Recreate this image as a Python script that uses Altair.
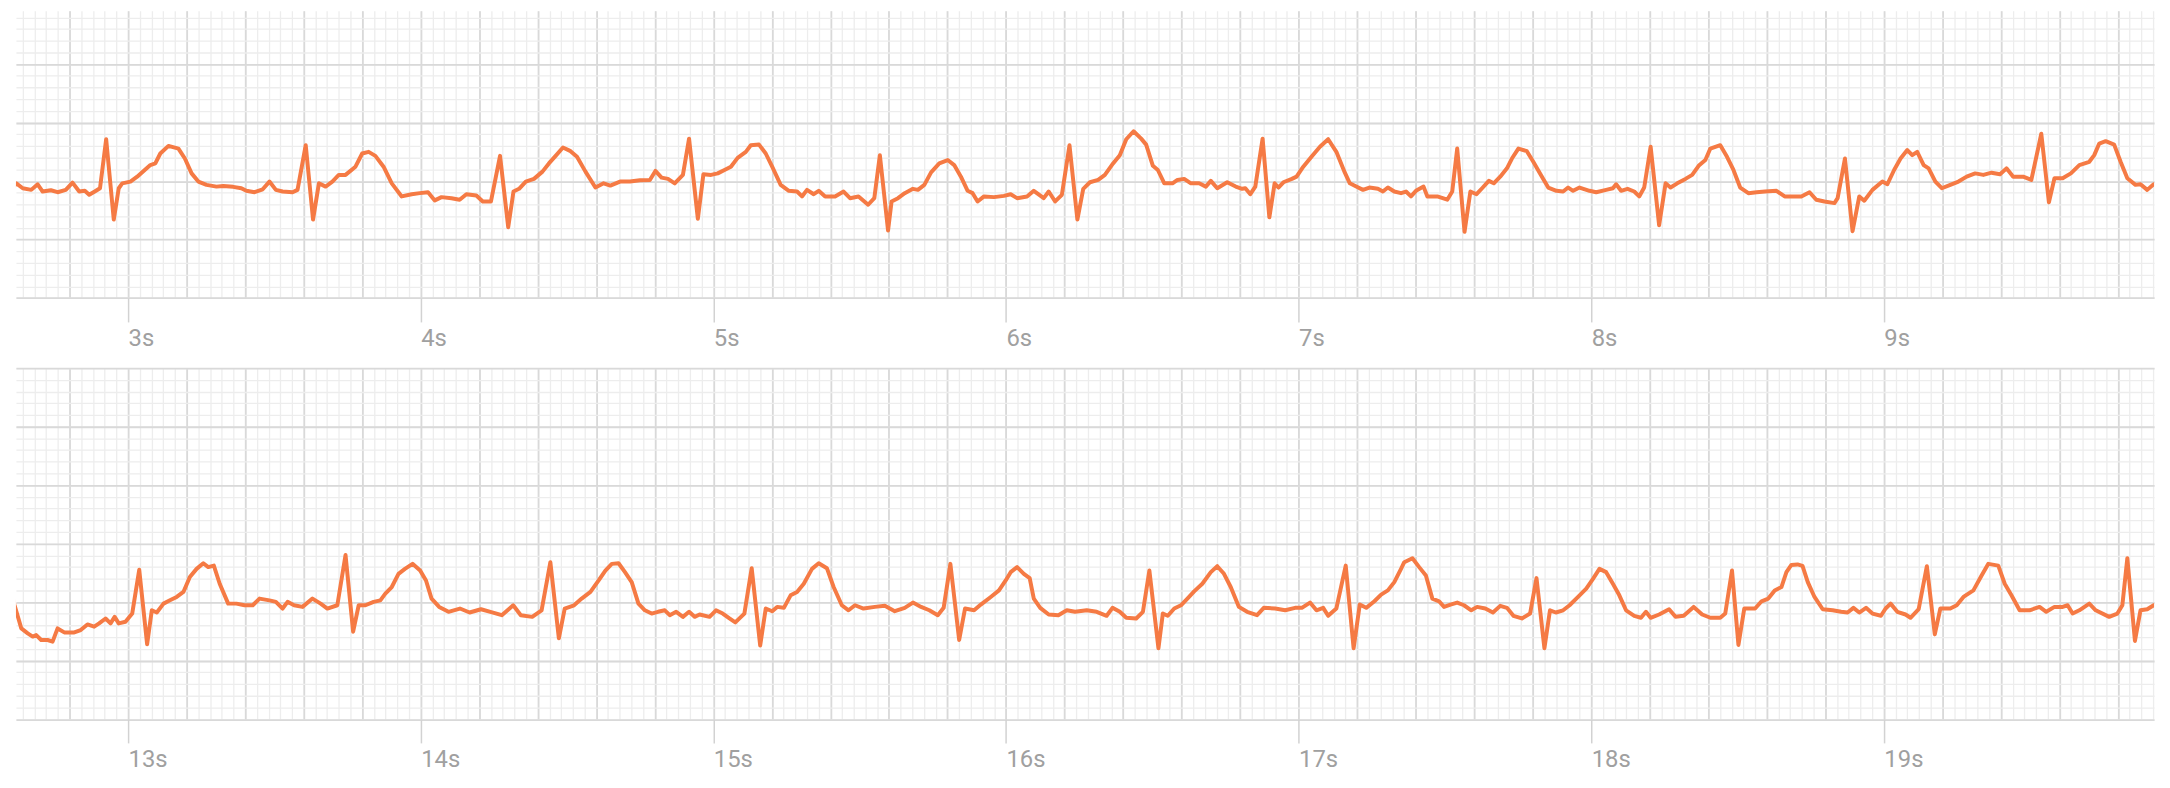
import altair as alt
import numpy as np
import pandas as pd

# ---------------- data (seconds, mV) ----------------
top_t = [
    2.590, 2.618, 2.640, 2.669, 2.691, 2.708, 2.736, 2.759, 2.787, 2.810,
    2.833, 2.852, 2.867, 2.886, 2.904, 2.925, 2.951, 2.968, 2.980, 3.008,
    3.031, 3.053, 3.076, 3.093, 3.110, 3.138, 3.172, 3.194, 3.217, 3.240,
    3.268, 3.302, 3.325, 3.359, 3.387, 3.404, 3.432, 3.460, 3.483, 3.505,
    3.528, 3.562, 3.579, 3.607, 3.632, 3.652, 3.675, 3.698, 3.720, 3.743,
    3.777, 3.800, 3.822, 3.845, 3.873, 3.901, 3.935, 3.969, 3.997, 4.025,
    4.048, 4.071, 4.105, 4.133, 4.156, 4.190, 4.212, 4.240, 4.271, 4.299,
    4.317, 4.336, 4.359, 4.387, 4.416, 4.438, 4.461, 4.486, 4.512, 4.534,
    4.563, 4.597, 4.625, 4.648, 4.681, 4.715, 4.749, 4.783, 4.802, 4.823,
    4.845, 4.868, 4.896, 4.917, 4.947, 4.966, 4.992, 5.015, 5.038, 5.060,
    5.083, 5.111, 5.128, 5.156, 5.179, 5.201, 5.230, 5.258, 5.286, 5.303,
    5.320, 5.343, 5.360, 5.382, 5.416, 5.445, 5.467, 5.496, 5.529, 5.550,
    5.569, 5.597, 5.609, 5.631, 5.654, 5.682, 5.699, 5.721, 5.744, 5.772,
    5.801, 5.823, 5.846, 5.869, 5.886, 5.903, 5.925, 5.959, 5.993, 6.016,
    6.038, 6.072, 6.095, 6.129, 6.146, 6.168, 6.191, 6.217, 6.244, 6.264,
    6.287, 6.315, 6.338, 6.366, 6.389, 6.411, 6.436, 6.462, 6.479, 6.502,
    6.519, 6.541, 6.569, 6.586, 6.609, 6.632, 6.660, 6.683, 6.700, 6.722,
    6.756, 6.785, 6.807, 6.818, 6.835, 6.852, 6.877, 6.900, 6.918, 6.931,
    6.948, 6.977, 6.993, 7.016, 7.044, 7.073, 7.101, 7.129, 7.158, 7.175,
    7.197, 7.220, 7.242, 7.271, 7.288, 7.305, 7.327, 7.350, 7.367, 7.384,
    7.401, 7.427, 7.440, 7.474, 7.508, 7.525, 7.542, 7.567, 7.587, 7.608,
    7.627, 7.650, 7.667, 7.689, 7.712, 7.729, 7.751, 7.780, 7.802, 7.825,
    7.853, 7.881, 7.904, 7.921, 7.938, 7.960, 7.994, 8.017, 8.051, 8.074,
    8.085, 8.102, 8.124, 8.147, 8.164, 8.181, 8.203, 8.232, 8.254, 8.271,
    8.294, 8.322, 8.345, 8.367, 8.390, 8.407, 8.441, 8.464, 8.486, 8.509,
    8.537, 8.565, 8.594, 8.633, 8.661, 8.695, 8.718, 8.746, 8.769, 8.797,
    8.831, 8.842, 8.867, 8.893, 8.916, 8.933, 8.961, 8.995, 9.012, 9.035,
    9.057, 9.080, 9.097, 9.114, 9.136, 9.153, 9.176, 9.198, 9.227, 9.255,
    9.283, 9.312, 9.340, 9.368, 9.397, 9.419, 9.442, 9.476, 9.504, 9.538,
    9.564, 9.583, 9.611, 9.639, 9.668, 9.702, 9.719, 9.736, 9.758, 9.787,
    9.809, 9.832, 9.860, 9.877, 9.900, 9.922, 9.950,
]
top_mv = [
    -0.103, -0.019, -0.061, -0.075, -0.027, -0.089, -0.078, -0.095, -0.075, -0.013,
    -0.089, -0.083, -0.117, -0.089, -0.061, 0.358, -0.329, -0.061, -0.019, -0.004,
    0.038, 0.087, 0.137, 0.151, 0.236, 0.301, 0.278, 0.193, 0.066, -0.004,
    -0.032, -0.047, -0.041, -0.049, -0.061, -0.083, -0.095, -0.070, -0.004, -0.075,
    -0.089, -0.095, -0.075, 0.307, -0.329, -0.019, -0.047, -0.004, 0.053, 0.053,
    0.123, 0.236, 0.250, 0.216, 0.123, -0.019, -0.131, -0.112, -0.103, -0.095,
    -0.165, -0.137, -0.146, -0.159, -0.112, -0.123, -0.174, -0.174, 0.216, -0.394,
    -0.089, -0.066, -0.004, 0.019, 0.081, 0.151, 0.216, 0.287, 0.256, 0.208,
    0.081, -0.055, -0.019, -0.038, -0.004, -0.004, 0.007, 0.010, 0.087, 0.030,
    0.019, -0.019, 0.053, 0.363, -0.321, 0.058, 0.053, 0.066, 0.095, 0.123,
    0.199, 0.250, 0.307, 0.312, 0.236, 0.123, -0.032, -0.083, -0.089, -0.131,
    -0.075, -0.112, -0.083, -0.131, -0.131, -0.089, -0.146, -0.131, -0.202, -0.146,
    0.222, -0.422, -0.174, -0.146, -0.103, -0.066, -0.075, -0.032, 0.075, 0.151,
    0.180, 0.137, 0.038, -0.083, -0.103, -0.174, -0.131, -0.137, -0.126, -0.112,
    -0.146, -0.131, -0.083, -0.146, -0.089, -0.174, -0.117, 0.307, -0.329, -0.066,
    -0.010, 0.010, 0.053, 0.151, 0.222, 0.358, 0.426, 0.363, 0.312, 0.131,
    0.095, -0.019, -0.019, 0.010, 0.019, -0.019, -0.019, -0.047, 0.002, -0.061,
    -0.010, -0.047, -0.066, -0.061, -0.112, -0.047, 0.363, -0.310, -0.019, -0.055,
    -0.010, 0.019, 0.038, 0.123, 0.208, 0.293, 0.358, 0.250, 0.072, -0.019,
    -0.047, -0.075, -0.055, -0.066, -0.089, -0.055, -0.089, -0.103, -0.089, -0.131,
    -0.083, -0.047, -0.131, -0.131, -0.159, -0.089, 0.278, -0.434, -0.089, -0.112,
    -0.061, 0.002, -0.019, 0.038, 0.109, 0.193, 0.278, 0.256, 0.165, 0.066,
    -0.055, -0.083, -0.089, -0.055, -0.083, -0.055, -0.083, -0.095, -0.075, -0.061,
    -0.027, -0.083, -0.066, -0.089, -0.131, -0.055, 0.293, -0.377, -0.019, -0.055,
    -0.019, 0.019, 0.053, 0.131, 0.180, 0.278, 0.307, 0.208, 0.095, -0.055,
    -0.103, -0.095, -0.089, -0.083, -0.131, -0.131, -0.131, -0.095, -0.159, -0.174,
    -0.188, -0.146, 0.193, -0.428, -0.131, -0.168, -0.075, -0.004, -0.027, 0.095,
    0.193, 0.265, 0.222, 0.250, 0.137, 0.109, -0.004, -0.061, -0.032, -0.004,
    0.038, 0.066, 0.053, 0.072, 0.058, 0.109, 0.038, 0.038, 0.010, 0.405,
    -0.182, 0.024, 0.024, 0.066, 0.137, 0.165, 0.222, 0.321, 0.341, 0.312,
    0.165, 0.024, -0.032, -0.027, -0.075, -0.027, -0.004,
]

bottom_t = [
    12.595, 12.612, 12.635, 12.657, 12.674, 12.686, 12.703, 12.725, 12.742, 12.759,
    12.782, 12.816, 12.838, 12.861, 12.884, 12.901, 12.923, 12.940, 12.954, 12.968,
    12.991, 13.014, 13.038, 13.065, 13.081, 13.098, 13.121, 13.143, 13.166, 13.189,
    13.211, 13.234, 13.257, 13.274, 13.293, 13.313, 13.342, 13.370, 13.398, 13.426,
    13.449, 13.483, 13.505, 13.528, 13.545, 13.567, 13.596, 13.630, 13.658, 13.681,
    13.715, 13.743, 13.769, 13.788, 13.811, 13.839, 13.862, 13.879, 13.901, 13.924,
    13.946, 13.972, 13.998, 14.018, 14.037, 14.063, 14.095, 14.134, 14.167, 14.206,
    14.238, 14.277, 14.316, 14.342, 14.381, 14.413, 14.443, 14.472, 14.492, 14.524,
    14.550, 14.580, 14.608, 14.631, 14.653, 14.676, 14.698, 14.721, 14.744, 14.766,
    14.789, 14.811, 14.834, 14.851, 14.873, 14.896, 14.917, 14.936, 14.953, 14.987,
    15.009, 15.032, 15.055, 15.075, 15.106, 15.131, 15.160, 15.179, 15.201, 15.218,
    15.241, 15.264, 15.286, 15.309, 15.337, 15.360, 15.388, 15.411, 15.439, 15.462,
    15.484, 15.513, 15.552, 15.586, 15.620, 15.654, 15.682, 15.710, 15.738, 15.767,
    15.787, 15.810, 15.840, 15.860, 15.891, 15.914, 15.948, 15.976, 15.999, 16.016,
    16.038, 16.061, 16.081, 16.095, 16.117, 16.146, 16.179, 16.208, 16.236, 16.276,
    16.310, 16.344, 16.364, 16.389, 16.411, 16.445, 16.468, 16.490, 16.521, 16.536,
    16.553, 16.575, 16.598, 16.620, 16.643, 16.671, 16.700, 16.722, 16.745, 16.768,
    16.796, 16.824, 16.858, 16.881, 16.920, 16.954, 16.988, 17.011, 17.039, 17.061,
    17.084, 17.101, 17.129, 17.161, 17.188, 17.209, 17.231, 17.259, 17.282, 17.305,
    17.327, 17.350, 17.361, 17.389, 17.412, 17.435, 17.457, 17.480, 17.497, 17.519,
    17.542, 17.565, 17.590, 17.610, 17.638, 17.664, 17.689, 17.712, 17.734, 17.763,
    17.791, 17.813, 17.840, 17.859, 17.879, 17.904, 17.926, 17.955, 17.983, 18.006,
    18.028, 18.051, 18.074, 18.096, 18.119, 18.147, 18.170, 18.187, 18.203, 18.232,
    18.266, 18.288, 18.316, 18.350, 18.379, 18.407, 18.441, 18.458, 18.481, 18.503,
    18.523, 18.560, 18.582, 18.605, 18.627, 18.650, 18.667, 18.684, 18.705, 18.722,
    18.740, 18.763, 18.791, 18.825, 18.854, 18.876, 18.896, 18.916, 18.939, 18.961,
    18.990, 19.006, 19.023, 19.046, 19.074, 19.091, 19.119, 19.147, 19.174, 19.193,
    19.227, 19.249, 19.272, 19.306, 19.334, 19.357, 19.391, 19.413, 19.436, 19.464,
    19.498, 19.532, 19.555, 19.583, 19.611, 19.628, 19.645, 19.668, 19.702, 19.724,
    19.770, 19.798, 19.815, 19.832, 19.858, 19.877, 19.900, 19.922, 19.950,
]
bottom_mv = [
    0.142, -0.027, -0.225, -0.267, -0.295, -0.282, -0.324, -0.324, -0.338, -0.225,
    -0.259, -0.259, -0.239, -0.191, -0.210, -0.182, -0.140, -0.182, -0.126, -0.182,
    -0.168, -0.098, 0.276, -0.360, -0.070, -0.089, -0.013, 0.015, 0.044, 0.087,
    0.214, 0.284, 0.332, 0.299, 0.312, 0.157, -0.013, -0.013, -0.027, -0.027,
    0.030, 0.015, 0.002, -0.055, 0.002, -0.027, -0.041, 0.030, -0.013, -0.055,
    -0.027, 0.403, -0.253, -0.027, -0.027, 0.002, 0.015, 0.072, 0.129, 0.242,
    0.284, 0.327, 0.270, 0.185, 0.030, -0.041, -0.083, -0.055, -0.089, -0.061,
    -0.083, -0.112, -0.027, -0.112, -0.126, -0.070, 0.341, -0.310, -0.055, -0.027,
    0.030, 0.087, 0.185, 0.270, 0.327, 0.332, 0.256, 0.171, -0.013, -0.070,
    -0.098, -0.083, -0.070, -0.112, -0.083, -0.126, -0.083, -0.126, -0.106, -0.126,
    -0.070, -0.098, -0.140, -0.174, -0.098, 0.290, -0.371, -0.055, -0.078, -0.041,
    -0.049, 0.058, 0.087, 0.157, 0.284, 0.332, 0.290, 0.129, -0.027, -0.070,
    -0.027, -0.055, -0.041, -0.032, -0.078, -0.049, -0.004, -0.041, -0.070, -0.112,
    -0.049, 0.327, -0.324, -0.055, -0.070, -0.021, 0.044, 0.100, 0.185, 0.256,
    0.299, 0.242, 0.205, 0.030, -0.049, -0.106, -0.112, -0.070, -0.083, -0.070,
    -0.083, -0.117, -0.049, -0.083, -0.134, -0.140, -0.083, 0.270, -0.394, -0.098,
    -0.117, -0.055, -0.027, 0.030, 0.092, 0.157, 0.256, 0.307, 0.242, 0.129,
    -0.041, -0.083, -0.112, -0.049, -0.055, -0.070, -0.049, -0.049, -0.004, -0.070,
    -0.049, -0.117, -0.055, 0.312, -0.394, -0.021, -0.049, 0.007, 0.064, 0.100,
    0.171, 0.284, 0.341, 0.375, 0.299, 0.227, 0.030, 0.007, -0.041, -0.021,
    -0.004, -0.027, -0.070, -0.041, -0.055, -0.089, -0.032, -0.049, -0.117, -0.140,
    -0.098, 0.205, -0.394, -0.070, -0.089, -0.070, -0.027, 0.044, 0.115, 0.199,
    0.284, 0.256, 0.157, 0.058, -0.070, -0.117, -0.134, -0.083, -0.134, -0.106,
    -0.061, -0.126, -0.117, -0.041, -0.106, -0.134, -0.134, -0.098, 0.270, -0.366,
    -0.055, -0.055, 0.007, 0.030, 0.100, 0.129, 0.256, 0.318, 0.322, 0.310,
    0.171, 0.044, -0.061, -0.070, -0.083, -0.089, -0.049, -0.089, -0.049, -0.098,
    -0.117, -0.055, -0.013, -0.083, -0.106, -0.134, -0.061, 0.307, -0.276, -0.055,
    -0.055, -0.027, 0.044, 0.100, 0.227, 0.327, 0.312, 0.157, 0.058, -0.070,
    -0.070, -0.041, -0.083, -0.041, -0.041, -0.027, -0.098, -0.070, -0.013, -0.070,
    -0.126, -0.098, -0.027, 0.375, -0.332, -0.070, -0.061, -0.027, 0.002,
]

top_start = 2.6167      # left edge of the visible strip (s)
bottom_start = 12.6167
top_range = [-1.0, 1.4555]   # mV, top strip is cut off at the top
bottom_range = [-1.0, 2.0]

# ---------------- styling ----------------
LINE_COLOR = "#f57a44"
MAJOR_COLOR = "#d9d9d9"
MINOR_COLOR = "#ededed"
LABEL_COLOR = "#a0a0a0"
TICK_COLOR = "#d2d2d2"
PANEL_W = 2154
PX_PER_S = 294.8
PX_PER_MV = 117.85


def steps(lo, hi, step):
    k0 = int(np.ceil(lo / step - 1e-9))
    k1 = int(np.floor(hi / step + 1e-9))
    return [round(k * step, 3) for k in range(k0, k1 + 1)]


def strip(ts, vs, t0, vrange):
    t1 = t0 + PANEL_W / PX_PER_S
    h = round((vrange[1] - vrange[0]) * PX_PER_MV, 1)
    df = pd.DataFrame({"t": ts, "mv": vs})
    xs = alt.Scale(domain=[t0, t1], nice=False, zero=False)
    ys = alt.Scale(domain=vrange, nice=False, zero=False)

    def grid_axis(values, color, width, orient):
        return alt.Axis(values=values, grid=True, gridColor=color, gridWidth=width,
                        ticks=False, labels=False, domain=False, title=None,
                        orient=orient)

    base = alt.Chart(df)
    minor = base.mark_line(opacity=0).encode(
        x=alt.X("t:Q", scale=xs, axis=grid_axis(steps(t0, t1, 0.04), MINOR_COLOR, 1.3, "top")),
        y=alt.Y("mv:Q", scale=ys, axis=grid_axis(steps(vrange[0], vrange[1], 0.1), MINOR_COLOR, 1.3, "left")),
    )
    major = base.mark_line(opacity=0).encode(
        x=alt.X("t:Q", scale=xs, axis=grid_axis(steps(t0, t1, 0.2), MAJOR_COLOR, 1.8, "top")),
        y=alt.Y("mv:Q", scale=ys, axis=grid_axis(steps(vrange[0], vrange[1], 0.5), MAJOR_COLOR, 1.8, "right")),
    )
    trace = base.mark_line(color=LINE_COLOR, strokeWidth=4, strokeJoin="round",
                           strokeCap="round", clip=True).encode(
        x=alt.X("t:Q", scale=xs, axis=alt.Axis(
            values=steps(t0, t1, 1.0), grid=False, domain=False, title=None,
            ticks=True, tickSize=24, tickColor=TICK_COLOR, tickWidth=1.5,
            labels=True, labelExpr="round(datum.value) + 's'", labelAlign="left",
            labelFont="Roboto", labelFontSize=24, labelColor=LABEL_COLOR,
            labelPadding=5, labelFlush=False, labelOverlap=False,
            orient="bottom")),
        y=alt.Y("mv:Q", scale=ys, axis=None),
    )
    return (alt.layer(minor, major, trace)
            .resolve_axis(x="independent", y="independent")
            .properties(width=PANEL_W, height=h))


top = strip(top_t, top_mv, top_start, top_range)
bottom = strip(bottom_t, bottom_mv, bottom_start, bottom_range)

chart = (alt.vconcat(top, bottom, spacing=70, bounds="flush")
         .properties(padding=0, background="white")
         .configure_view(stroke=None))

chart.save("out.html", embed_options={"renderer": "svg", "actions": False})
